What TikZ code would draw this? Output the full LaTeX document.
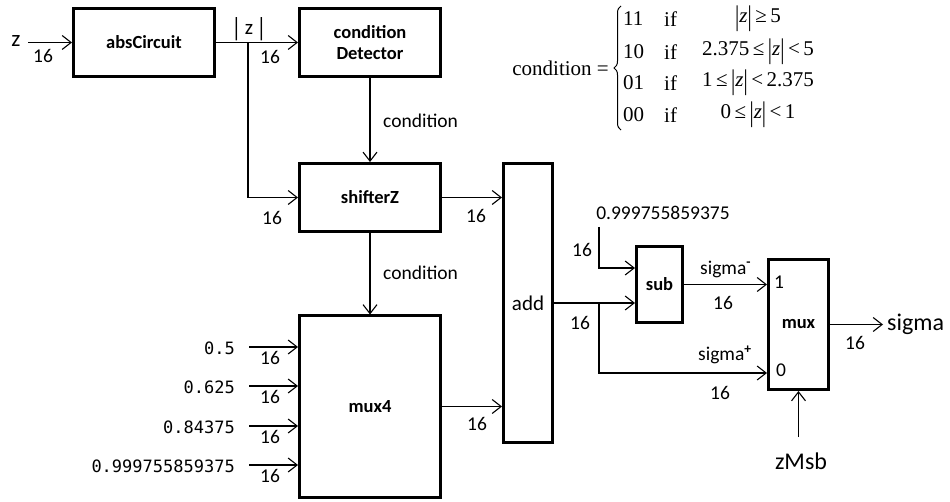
\documentclass[tikz,border=0pt]{standalone}
\usepackage{fontspec}
\setmainfont{Carlito}
\newfontfamily\monofont{DejaVu Sans Mono}
\newfontfamily\serifface{Liberation Serif}
\usetikzlibrary{arrows.meta,decorations.pathreplacing}
% |z| with tall bars for the condition table
\newcommand{\absz}{\raisebox{-0.14em}{\scalebox{1}[1.35]{|}}\textit{z}\raisebox{-0.14em}{\scalebox{1}[1.35]{|}}}
\tikzset{
  blk/.style={draw, line width=3pt, inner sep=0pt, align=center,
    font=\fontsize{18.5}{21}\selectfont\bfseries},
  wire/.style={line width=1.1pt},
  arr/.style={wire, -{Straight Barb[length=9pt,width=14pt]}},
  lbl/.style={inner sep=0pt, font=\fontsize{19.5}{22}\selectfont},
  big/.style={inner sep=0pt, font=\fontsize{24}{27}\selectfont},
  const/.style={inner sep=0pt, anchor=east, font=\monofont\fontsize{17}{20}\selectfont},
  fml/.style={inner sep=0pt, font=\serifface\fontsize{21}{24}\selectfont},
}
\begin{document}
\begin{tikzpicture}[x=1pt,y=-1pt]
\useasboundingbox (0,0) rectangle (950,502);

% ---- blocks
\node[blk, minimum width=141pt, minimum height=68pt] (abs) at (144,42.5) {absCircuit};
\node[blk, minimum width=141pt, minimum height=68pt] (cd) at (370,42.5) {condition\\Detector};
\node[blk, minimum width=141pt, minimum height=68pt] (sh) at (370,197.5) {shifterZ};
\node[blk, minimum width=141pt, minimum height=181pt] (m4) at (370,406.5) {mux4};
\node[blk, minimum width=49pt, minimum height=279pt, font=\fontsize{21}{24}\selectfont] (add) at (528,303) {add};
\node[blk, minimum width=46pt, minimum height=76pt] (sub) at (659.5,284.5) {sub};
\node[blk, minimum width=60pt, minimum height=130pt] (mux) at (798.5,324.5) {mux};

% ---- input z and |z| distribution
\node[big, font=\fontsize{23}{26}\selectfont] (zin) at (16,41) {z};
\coordinate (zs) at (28,42.5);
\draw[arr] (zs) -- (abs.west);
\node[lbl] (n1) at (43,56) {16};

\draw[arr] (abs.east) -- (cd.west);
\node[lbl, font=\fontsize{21}{24}\selectfont] (absz) at (249,29)
  {\raisebox{-0.1em}{\scalebox{1}[1.25]{|}}\,z\,\raisebox{-0.1em}{\scalebox{1}[1.25]{|}}};
\node[lbl] (n2) at (270,57) {16};
\coordinate (br1) at (248,42.5);
\draw[arr] (br1) |- (sh.west);
\node[lbl] (n3) at (272,218) {16};

% ---- condition signal
\draw[arr] (cd.south) -- (sh.north);
\node[lbl, anchor=west] (c1lbl) at (383,121) {condition};
\draw[arr] (sh.south) -- (m4.north);
\node[lbl, anchor=west] (c2lbl) at (383,273) {condition};

% ---- mux4 constants
\foreach \v/\y/\n in {0.5/347/a, 0.625/386/b, 0.84375/426/c, 0.999755859375/465/d}{
  \node[const] (k\n) at (235,\y+1.5) {\v};
  \coordinate (p\n) at (249,\y);
  \draw[arr] (p\n) -- (p\n -| m4.west);
  \node[lbl] (w\n) at (270,\y+11) {16};
}

% ---- adder
\draw[arr] (sh.east) -- (sh.east -| add.west);
\node[lbl] (n4) at (476,216) {16};
\draw[arr] (m4.east) -- (m4.east -| add.west);
\node[lbl] (n5) at (477,424) {16};

% ---- subtractor and output mux
\draw[arr] (add.east) -- (add.east -| sub.west);
\node[lbl] (n6) at (580,323) {16};
\node[lbl] (kc) at (663,213) {0.999755859375};
\coordinate (kc1) at (599,227);
\coordinate (yk) at (0,268);
\draw[arr] (kc1) |- (sub.west |- yk);
\node[lbl] (n7) at (582,250) {16};

\coordinate (br2) at (599,303);
\coordinate (y0) at (0,373);
\draw[arr] (br2) |- (mux.west |- y0);
\node[lbl, anchor=west] (sp) at (698,355) {sigma\textsuperscript{\textbf{+}}};
\node[lbl] (n9) at (720,393) {16};

\draw[arr] (sub.east) -- (sub.east -| mux.west);
\node[lbl, anchor=west] (sm) at (700,269) {sigma\textsuperscript{\textbf{-}}};
\node[lbl] (n8) at (723,303) {16};

\node[lbl] (i1) at (779,282) {1};
\node[lbl] (i0) at (781,370) {0};

\coordinate (so) at (883,324.5);
\draw[arr] (mux.east) -- (so);
\node[big, anchor=west] (sig) at (887,324) {sigma};
\node[lbl] (n10) at (855,343) {16};

\coordinate (zm) at (798.5,437);
\draw[arr] (zm) -- (mux.south);
\node[big] (zmsb) at (801,461) {zMsb};

% ---- condition encoding table
\node[fml, anchor=east] (fl) at (609,68) {condition =};
\draw[line width=1pt, decorate, decoration={brace, amplitude=7pt}] (621,130) -- (621,6);
\foreach \y/\c/\e in {19/11/{\absz\,≥\,5},
                      52/10/{2.375\,≤\,\absz\,<\,5},
                      83/01/{1\,≤\,\absz\,<\,2.375},
                      115/00/{0\,≤\,\absz\,<\,1}}{
  \node[fml, anchor=west] (code\y) at (623,\y) {\c};
  \node[fml, anchor=west] (if\y) at (664,\y) {if};
  \node[fml] (rng\y) at (758,\y) {\e};
}
\end{tikzpicture}
\end{document}
